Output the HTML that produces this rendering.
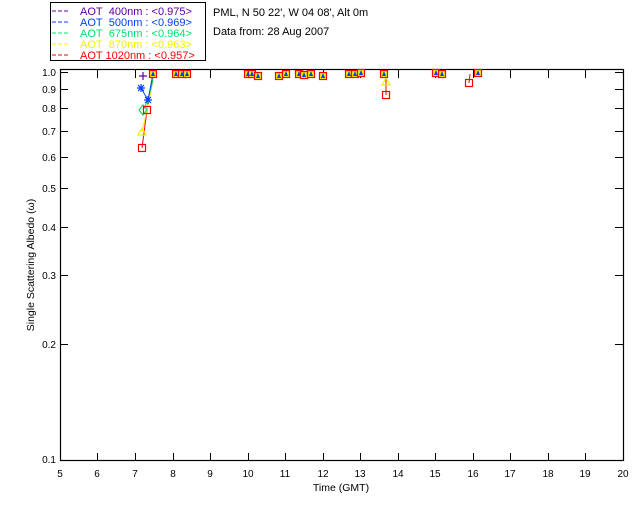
<!DOCTYPE html>
<html><head><meta charset="utf-8"><style>
html,body{margin:0;padding:0;background:#fff;}
svg{display:block;font-family:"Liberation Sans",sans-serif;}
</style></head><body>
<svg width="640" height="512" viewBox="0 0 640 512" xmlns="http://www.w3.org/2000/svg">
<rect width="640" height="512" fill="#fff"/>
<rect x="50.5" y="2.5" width="155" height="58" fill="none" stroke="#000" stroke-width="1"/>
<g font-size="11">
<line x1="52" y1="11" x2="70" y2="11" stroke="#6000a0" stroke-dasharray="4,2"/>
<text x="80" y="15" fill="#6000a0">AOT&#160;&#160;400nm : &lt;0.975&gt;</text>
<line x1="52" y1="22" x2="70" y2="22" stroke="#0040ff" stroke-dasharray="4,2"/>
<text x="80" y="26" fill="#0040ff">AOT&#160;&#160;500nm : &lt;0.969&gt;</text>
<line x1="52" y1="33" x2="70" y2="33" stroke="#00e070" stroke-dasharray="4,2"/>
<text x="80" y="37" fill="#00e070">AOT&#160;&#160;675nm : &lt;0.964&gt;</text>
<line x1="52" y1="44" x2="70" y2="44" stroke="#f0f000" stroke-dasharray="4,2"/>
<text x="80" y="48" fill="#f0f000">AOT&#160;&#160;870nm : &lt;0.963&gt;</text>
<line x1="52" y1="55" x2="70" y2="55" stroke="#ff0000" stroke-dasharray="4,2"/>
<text x="80" y="59" fill="#ff0000">AOT 1020nm : &lt;0.957&gt;</text>
</g>
<g font-size="11" fill="#000">
<text x="213" y="16">PML, N 50 22', W 04 08', Alt 0m</text>
<text x="213" y="35">Data from: 28 Aug 2007</text>
</g>
<rect x="60.5" y="69.5" width="563" height="391" fill="none" stroke="#000" stroke-width="1.2"/>
<g stroke="#000" stroke-width="1">
<path d="M97.5 461v-8M97.5 70v8M135.5 461v-8M135.5 70v8M173.5 461v-8M173.5 70v8M210.5 461v-8M210.5 70v8M248.5 461v-8M248.5 70v8M285.5 461v-8M285.5 70v8M323.5 461v-8M323.5 70v8M360.5 461v-8M360.5 70v8M398.5 461v-8M398.5 70v8M435.5 461v-8M435.5 70v8M473.5 461v-8M473.5 70v8M510.5 461v-8M510.5 70v8M548.5 461v-8M548.5 70v8M585.5 461v-8M585.5 70v8"/>
<path d="M60 344.5h8M623 344.5h-8M60 275.5h8M623 275.5h-8M60 227.5h8M623 227.5h-8M60 188.5h8M623 188.5h-8M60 157.5h8M623 157.5h-8M60 131.5h8M623 131.5h-8M60 108.5h8M623 108.5h-8M60 89.5h8M623 89.5h-8M60 72.5h8M623 72.5h-8"/>
</g>
<g font-size="10" fill="#000" text-anchor="end">
<text x="56" y="463">0.1</text><text x="56" y="348">0.2</text><text x="56" y="279">0.3</text>
<text x="56" y="231">0.4</text><text x="56" y="192">0.5</text><text x="56" y="161">0.6</text>
<text x="56" y="135">0.7</text><text x="56" y="112">0.8</text><text x="56" y="93">0.9</text>
<text x="56" y="76">1.0</text>
</g>
<g font-size="10" fill="#000" text-anchor="middle">
<text x="60" y="477">5</text><text x="97" y="477">6</text><text x="135" y="477">7</text><text x="173" y="477">8</text>
<text x="210" y="477">9</text><text x="248" y="477">10</text><text x="285" y="477">11</text><text x="323" y="477">12</text>
<text x="360" y="477">13</text><text x="398" y="477">14</text><text x="435" y="477">15</text><text x="473" y="477">16</text>
<text x="510" y="477">17</text><text x="548" y="477">18</text><text x="585" y="477">19</text><text x="623" y="477">20</text>
<text x="341" y="491" font-size="10.5">Time (GMT)</text>
</g>
<text transform="translate(34,265) rotate(-90)" font-size="10.5" text-anchor="middle">Single Scattering Albedo (ω)</text>
<polyline points="142,148 147,110 153,74" fill="none" stroke="#ff0000" stroke-width="1"/>
<polyline points="142,132 147,110 154,76" fill="none" stroke="#f0f000" stroke-width="1"/>
<polyline points="143,110 148,100 153,80" fill="none" stroke="#00e070" stroke-width="1"/>
<polyline points="141,88 148,100 153,74" fill="none" stroke="#0040ff" stroke-width="1"/>
<polyline points="386,74 386,82 386,95" fill="none" stroke="#ff0000" stroke-width="1"/>
<polyline points="470,74 469,83" fill="none" stroke="#ff0000" stroke-width="1"/>
<g fill="none" stroke-width="1.2">
<path d="M141 84v8M137 88h8M138 85l6 6M144 85l-6 6" stroke="#0040ff"/>
<path d="M148 96v8M144 100h8M145 97l6 6M151 97l-6 6" stroke="#0040ff"/>
<path d="M143 72v8M139 76h8" stroke="#6000a0"/>
<path d="M143 105l4 5-4 5-4-5z" stroke="#00e070"/>
<path d="M142 128l4 7h-8z" stroke="#f0f000"/>
<rect x="138.5" y="144.5" width="7" height="7" stroke="#ff0000"/>
<rect x="143.5" y="106.5" width="7" height="7" stroke="#ff0000"/>
<path d="M386 78l4 7h-8z" stroke="#f0f000"/>
<rect x="382.5" y="91.5" width="7" height="7" stroke="#ff0000"/>
<rect x="465.5" y="79.5" width="7" height="7" stroke="#ff0000"/>
</g>
<g stroke="#ff0000" stroke-width="1.2" fill="#f0f000">
<rect x="149.5" y="70.5" width="7" height="7"/>
<rect x="172.5" y="70.5" width="7" height="7"/>
<rect x="178.5" y="70.5" width="7" height="7"/>
<rect x="183.5" y="70.5" width="7" height="7"/>
<rect x="244.5" y="70.5" width="7" height="7"/>
<rect x="248.5" y="70.5" width="7" height="7"/>
<rect x="254.5" y="72.5" width="7" height="7"/>
<rect x="275.5" y="72.5" width="7" height="7"/>
<rect x="282.5" y="70.5" width="7" height="7"/>
<rect x="295.5" y="70.5" width="7" height="7"/>
<rect x="300.5" y="71.5" width="7" height="7"/>
<rect x="307.5" y="70.5" width="7" height="7"/>
<rect x="319.5" y="72.5" width="7" height="7"/>
<rect x="345.5" y="70.5" width="7" height="7"/>
<rect x="351.5" y="70.5" width="7" height="7"/>
<rect x="357.5" y="69.5" width="7" height="7"/>
<rect x="380.5" y="70.5" width="7" height="7"/>
<rect x="432.5" y="69.5" width="7" height="7"/>
<rect x="438.5" y="70.5" width="7" height="7"/>
<rect x="474.5" y="69.5" width="7" height="7"/>
</g>
<g fill="#0040ff">
<path d="M153 71l2 5h-4zM176 71l2 5h-4zM182 71l2 5h-4zM187 71l2 5h-4zM248 71l2 5h-4zM252 71l2 5h-4zM258 73l2 5h-4zM279 73l2 5h-4zM286 71l2 5h-4zM299 71l2 5h-4zM304 72l2 5h-4zM311 71l2 5h-4zM323 73l2 5h-4zM349 71l2 5h-4zM355 71l2 5h-4zM361 70l2 5h-4zM384 71l2 5h-4zM436 70l2 5h-4zM442 71l2 5h-4zM478 70l2 5h-4z"/>
</g>
</svg>
</body></html>
